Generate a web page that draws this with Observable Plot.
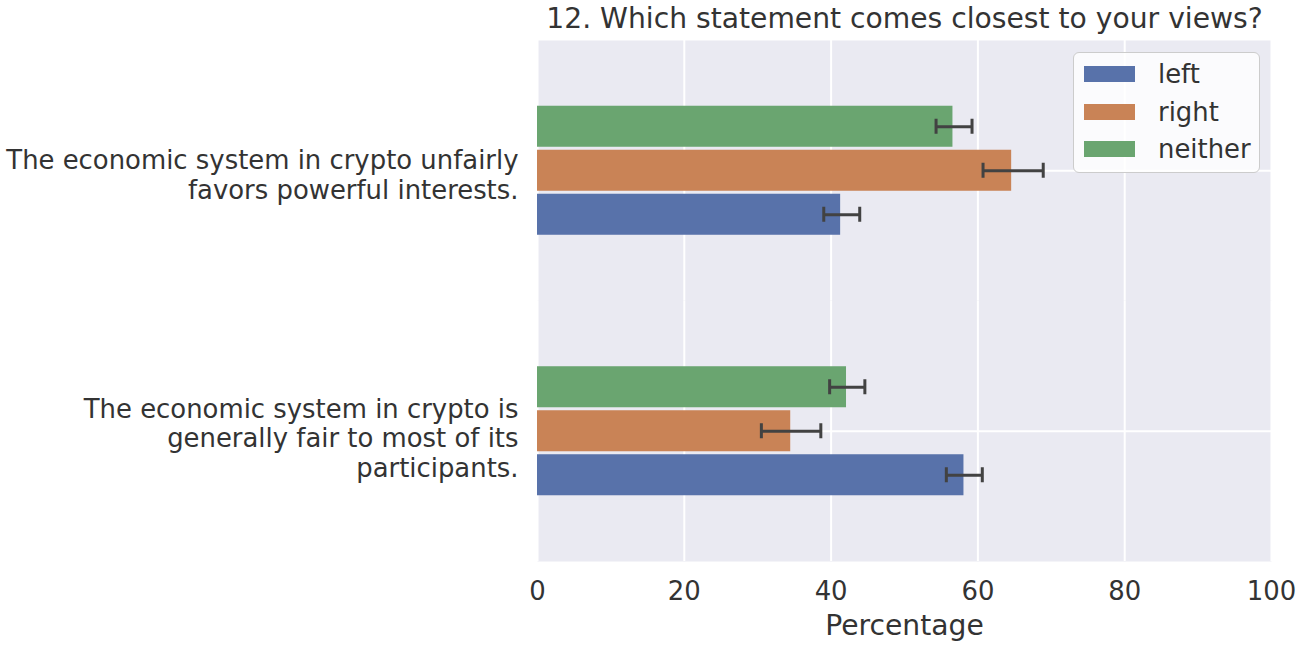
<!DOCTYPE html>
<html>
<head>
<meta charset="utf-8">
<script src="https://cdn.jsdelivr.net/npm/d3@7"></script>
<script src="https://cdn.jsdelivr.net/npm/@observablehq/plot@0.6"></script>
<style>
  body { margin: 0; background: white; }
  #wrap { position: relative; width: 1304px; height: 647px; }
  #legendbox {
    position: absolute; left: 1073px; top: 52px; width: 187px; height: 121px;
    box-sizing: border-box; border: 1px solid #cccccc; border-radius: 6px;
    background: rgba(255,255,255,0.8); padding: 2px 4px 5px 10px;
  }
  #legendbox .lg-swatches { margin: 0; font-family: 'DejaVu Sans', sans-serif; font-size: 25.9px; color: #333333; }
  #legendbox .lg-swatch { height: 37.8px; padding-bottom: 0; display: flex; align-items: center; }
  #legendbox .lg-swatch > svg { margin-right: 23px; }
  #legendbox .lg-swatch-label { overflow: visible; text-overflow: clip; }
</style>
</head>
<body>
<div id="wrap"></div>
<script>
const title = "12. Which statement comes closest to your views?";
const questions = [
  "The economic system in crypto unfairly favors powerful interests.",
  "The economic system in crypto is generally fair to most of its participants."
];
const questionLabels = [
  "The economic system in crypto unfairly\nfavors powerful interests.",
  "The economic system in crypto is\ngenerally fair to most of its\nparticipants."
];
const groups = ["left", "right", "neither"];
const groupOrder = ["neither", "right", "left"];
const colors = ["#5872aa", "#c98356", "#6aa570"];
const xTicks = [0, 20, 40, 60, 80, 100];
const xLabel = "Percentage";

// values per question [unfairly, fair]
const leftPct = [41.3, 58.1];
const leftLo = [39.0, 55.7];
const leftHi = [43.9, 60.6];
const rightPct = [64.6, 34.5];
const rightLo = [60.7, 30.5];
const rightHi = [68.9, 38.6];
const neitherPct = [56.6, 42.1];
const neitherLo = [54.3, 39.8];
const neitherHi = [59.2, 44.6];

const series = {left: [leftPct, leftLo, leftHi], right: [rightPct, rightLo, rightHi], neither: [neitherPct, neitherLo, neitherHi]};
const table = [];
questions.forEach((q, i) => {
  groups.forEach(g => {
    const [v, lo, hi] = series[g];
    table.push({question: q, group: g, value: v[i], lo: lo[i], hi: hi[i]});
  });
});

const errColor = "#424242";
const txt = "#333333";

const chart = Plot.plot({
  width: 1304,
  height: 647,
  marginLeft: 537,
  marginRight: 33,
  marginTop: 40,
  marginBottom: 86,
  style: {fontFamily: "'DejaVu Sans', sans-serif", fontSize: "25.9px", color: txt, background: "white", overflow: "visible"},
  x: {domain: [0, 100], ticks: xTicks, tickSize: 0, tickPadding: 20, label: null},
  y: {domain: groupOrder, axis: null, paddingInner: 0.068, paddingOuter: 1.494, round: false},
  fy: {domain: questions, axis: null, padding: 0, round: false},
  color: {domain: groups, range: colors},
  marks: [
    Plot.frame({fill: "#eaeaf2", stroke: "none"}),
    Plot.ruleX(xTicks, {stroke: "white", strokeWidth: 2}),
    Plot.ruleY(["right"], {stroke: "white", strokeWidth: 2}),
    Plot.barX(table, {x: "value", y: "group", fy: "question", fill: "group"}),
    Plot.ruleY(table, {x1: "lo", x2: "hi", y: "group", fy: "question", stroke: errColor, strokeWidth: 3}),
    Plot.tickX(table, {x: "lo", y: "group", fy: "question", stroke: errColor, strokeWidth: 3, insetTop: 13, insetBottom: 13}),
    Plot.tickX(table, {x: "hi", y: "group", fy: "question", stroke: errColor, strokeWidth: 3, insetTop: 13, insetBottom: 13}),
    Plot.text([questions[0]], {fy: d => d, text: () => questionLabels[0], frameAnchor: "left", textAnchor: "end", lineAnchor: "middle", lineHeight: 1.14, dx: -19, dy: 4, fill: txt}),
    Plot.text([questions[1]], {fy: d => d, text: () => questionLabels[1], frameAnchor: "left", textAnchor: "end", lineAnchor: "middle", lineHeight: 1.14, dx: -19, dy: 6.5, fill: txt}),
    Plot.text([title], {fy: () => questions[0], text: d => d, frameAnchor: "top", lineAnchor: "bottom", dy: -13, fontSize: 28.2, fill: txt}),
    Plot.text([xLabel], {fy: () => questions[1], text: d => d, frameAnchor: "bottom", lineAnchor: "top", dy: 53, fontSize: 28.2, fill: txt})
  ]
});

const wrap = document.getElementById("wrap");
wrap.appendChild(chart);
const lb = document.createElement("div");
lb.id = "legendbox";
lb.appendChild(Plot.legend({color: {domain: groups, range: colors}, legend: "swatches", columns: 1, swatchWidth: 51, swatchHeight: 16, className: "lg"}));
wrap.appendChild(lb);
</script>
</body>
</html>
